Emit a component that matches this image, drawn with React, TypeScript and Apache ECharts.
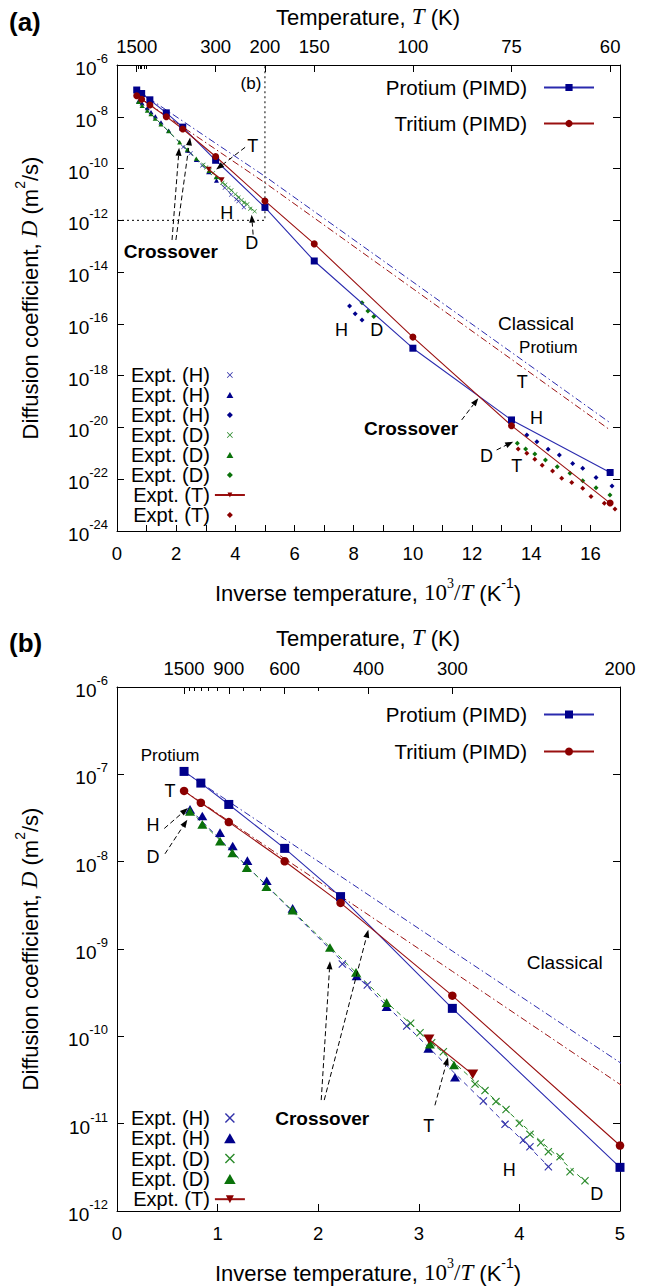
import React, { useEffect, useRef } from 'react';
import * as echarts from 'echarts';

const FONT = '"Liberation Sans", Arial, Helvetica, sans-serif';
const SERIF = '"Liberation Serif", "Times New Roman", serif';

// ---------------- data (D in m^2/s, x = 10^3/T in K^-1) ----------------
const pimdTemperatures = [1500, 1200, 900, 600, 450, 300, 200, 150, 100, 75, 60];
const protiumPIMD = [1.08e-7, 7.94e-8, 4.52e-8, 1.42e-8, 3.98e-9, 2.09e-10, 3.16e-12, 2.69e-14, 1.15e-17, 1.95e-20, 1.82e-22];
const tritiumPIMD = [6.46e-8, 4.73e-8, 2.84e-8, 1.01e-8, 3.37e-9, 2.92e-10, 5.62e-12, 1.23e-13, 3.09e-17, 1.17e-20, 1.2e-23];
const protiumClassical = [1.07e-7, 7.98e-8, 4.88e-8, 1.82e-8, 6.81e-9, 9.48e-10, 5.01e-11, 2.19e-12, 4.17e-15, 7.94e-18, 1.51e-20];
const tritiumClassical = [6.46e-8, 4.8e-8, 2.92e-8, 1.08e-8, 4.03e-9, 5.55e-10, 2.82e-11, 1.23e-12, 2.29e-15, 4.27e-18, 7.94e-21];

const exptHCrossX = [2.24, 2.488, 2.88, 3.642, 3.857, 4.039, 4.105, 4.288];
const exptHCrossD = [6.73e-10, 3.87e-10, 1.31e-10, 1.82e-11, 9.82e-12, 6.5e-12, 5.45e-12, 3.21e-12];
const exptHTriX = [0.726, 0.848, 1.024, 1.15, 1.296, 1.488, 1.746, 2.382, 2.68, 3.095, 3.36];
const exptHTriD = [3.97e-8, 3.33e-8, 2.15e-8, 1.51e-8, 1.03e-8, 6.05e-9, 2.92e-9, 4.91e-10, 2.18e-10, 7.29e-11, 3.4e-11];
const exptHDiaX = [7.86, 8.05, 8.28, 13.85, 14.19, 14.57, 14.95, 15.4, 15.74, 16.19, 16.73];
const exptHDiaD = [4.9e-16, 2.45e-16, 1.41e-16, 5.13e-21, 2.82e-21, 1.45e-21, 8.71e-22, 4.07e-22, 2.63e-22, 1.17e-22, 5.5e-23];
const exptDCrossX = [2.919, 3.012, 3.128, 3.244, 3.559, 3.658, 3.767, 3.867, 3.999, 4.105, 4.212, 4.288, 4.404, 4.503, 4.652];
const exptDCrossD = [1.41e-10, 1.1e-10, 8.45e-11, 6.67e-11, 2.84e-11, 2.39e-11, 1.79e-11, 1.45e-11, 1.01e-11, 7.55e-12, 6.05e-12, 4.78e-12, 4.19e-12, 2.82e-12, 2.22e-12];
const exptDTriX = [0.726, 0.848, 1.024, 1.147, 1.29, 1.485, 1.746, 2.117, 2.376, 2.68, 3.11, 3.35];
const exptDTriD = [3.77e-8, 2.67e-8, 1.72e-8, 1.26e-8, 8.53e-9, 5.16e-9, 2.79e-9, 1.04e-9, 5.41e-10, 2.43e-10, 8.13e-11, 4.7e-11];
const exptDDiaX = [8.28, 8.48, 8.68, 13.53, 13.81, 14.12, 14.48, 14.88, 15.31, 15.74, 16.19, 16.66];
const exptDDiaD = [6.61e-16, 3.16e-16, 1.91e-16, 2.45e-21, 1.48e-21, 9.33e-22, 5.5e-22, 3.02e-22, 1.7e-22, 8.71e-23, 4.68e-23, 2.45e-23];
const exptTTriX = [3.101, 3.536];
const exptTTriD = [9.25e-11, 3.67e-11];
const exptTDiaX = [13.56, 13.85, 14.12, 14.37, 14.72, 15.03, 15.37, 15.74, 16.02, 16.47, 16.83];
const exptTDiaD = [1.48e-21, 1.0e-21, 5.89e-22, 3.47e-22, 2.09e-22, 1.1e-22, 7.41e-23, 4.47e-23, 2.14e-23, 1.17e-23, 7.08e-24];
const exptHFitX = [0.726, 2.68, 4.3];
const exptHFitD = [3.98e-8, 2.24e-10, 3.16e-12];
const exptDFitX = [0.726, 2.68, 3.35, 4.67];
const exptDFitD = [3.8e-8, 2.45e-10, 5.01e-11, 2.09e-12];

// region of panel (b) marked in panel (a)
const regionBx = [0, 5, 5];
const regionBD = [1e-12, 1e-12, 1e-6];

// tick labels
const topTempLabelsA = [1500, 300, 200, 150, 100, 75, 60];
const topTempMinorA = [1400, 1300, 1200, 1100, 1000];
const topTempLabelsB = [1500, 900, 600, 400, 300, 200];
const topTempMinorB = [1400, 1300, 1200, 1100, 1000, 800, 700, 500];

// annotations, in data coordinates [10^3/T, log10 D]
const annotTextA: [number, number, string, number, boolean?][] = [
  [4.59, -9.13, 'T', 18], [3.71, -11.73, 'H', 18], [4.55, -12.89, 'D', 18],
  [1.82, -13.22, 'Crossover', 19, true], [7.59, -16.24, 'H', 18], [8.78, -16.24, 'D', 18],
  [14.16, -15.98, 'Classical', 19], [14.58, -16.92, 'Protium', 17], [13.7, -18.23, 'T', 18],
  [9.94, -20.06, 'Crossover', 19, true], [14.18, -19.65, 'H', 18], [12.49, -21.1, 'D', 18], [13.51, -21.49, 'T', 18],
];
const annotArrowA = [
  [4.33, -9.18, 3.35, -10.04], [4.6, -12.55, 4.55, -11.78], [1.86, -12.76, 2.1, -9.2],
  [1.99, -12.76, 2.47, -8.8], [11.65, -19.71, 12.21, -18.87], [12.83, -20.87, 13.39, -20.55],
];
const annotTextB: [number, number, string, number, boolean?][] = [
  [0.527, -6.79, 'Protium', 17], [0.527, -7.19, 'T', 18], [0.358, -7.58, 'H', 18], [0.358, -7.95, 'D', 18],
  [4.45, -9.15, 'Classical', 19], [2.04, -10.94, 'Crossover', 19, true], [3.1, -11.03, 'T', 18],
  [3.9, -11.53, 'H', 18], [4.77, -11.8, 'D', 18],
];
const annotArrowB = [
  [0.47, -7.62, 0.705, -7.385], [0.477, -7.91, 0.699, -7.52], [2.03, -10.73, 2.117, -9.14],
  [2.06, -10.73, 2.498, -8.78], [3.16, -10.79, 3.29, -10.24],
];

// ---------------- styling ----------------
const C_PH = '#00008b';
const C_PHL = '#2a2aae';
const C_T = '#8b0000';
const C_TL = '#9a1010';
const C_H = '#00008b';
const C_HX = '#3232aa';
const C_D = '#0a720a';
const C_DX = '#2a8a2a';
const CROSS = 'path://M0,1L1,0L5,4L9,0L10,1L6,5L10,9L9,10L5,6L1,10L0,9L4,5Z';
const TRI_UP = 'path://M5,0L10,8.66L0,8.66Z';
const TRI_DOWN = 'path://M0,0L10,0L5,8.66Z';
const DIAMOND = 'path://M5,0L10,5L5,10L0,5Z';

const inv = (T: number) => 1000 / T;
const pts = (xs: number[], ds: number[]) => xs.map((x, i) => [x, Math.log10(ds[i])]);
const strip = (n: string) => n.split('#')[0];

function panelSeries(p: 'a' | 'b') {
  const isA = p === 'a';
  const axes = { xAxisIndex: isA ? 0 : 3, yAxisIndex: isA ? 0 : 2 };
  const s = isA
    ? { cross: 4.5, tri: 5, dia: 5, ttri: 6, sq: 7, ci: 7 }
    : { cross: 8, tri: 10, dia: 6, ttri: 11, sq: 9, ci: 8.5 };
  const pimdX = pimdTemperatures.map(inv);
  const common = { ...axes, silent: true, animation: false, symbolKeepAspect: true };
  const it = (color: string) => ({ color, opacity: 1 });
  const out: any[] = [];
  if (isA) {
    out.push({ ...common, type: 'line', name: 'regionB', data: pts(regionBx, regionBD), symbol: 'none',
      lineStyle: { color: '#000', width: 1, type: [2, 3] }, z: 1 });
  }
  out.push({ ...common, type: 'line', name: 'fitH' + p, data: pts(exptHFitX, exptHFitD), symbol: 'none',
    lineStyle: { color: C_HX, width: 1, type: [5, 4] }, z: 2 });
  out.push({ ...common, type: 'line', name: 'fitD' + p, data: pts(exptDFitX, exptDFitD), symbol: 'none',
    lineStyle: { color: C_DX, width: 1, type: [5, 4] }, z: 2 });
  out.push({ ...common, type: 'scatter', name: `Expt. (H)#${p}1`, data: pts(exptHCrossX, exptHCrossD),
    symbol: CROSS, symbolSize: s.cross, itemStyle: it(C_HX), z: 3 });
  out.push({ ...common, type: 'scatter', name: `Expt. (H)#${p}2`, data: pts(exptHTriX, exptHTriD),
    symbol: TRI_UP, symbolSize: s.tri, itemStyle: it(C_H), z: 3 });
  if (isA) out.push({ ...common, type: 'scatter', name: `Expt. (H)#${p}3`, data: pts(exptHDiaX, exptHDiaD),
    symbol: DIAMOND, symbolSize: s.dia, itemStyle: it(C_H), z: 3 });
  out.push({ ...common, type: 'scatter', name: `Expt. (D)#${p}4`, data: pts(exptDCrossX, exptDCrossD),
    symbol: CROSS, symbolSize: s.cross, itemStyle: it(C_DX), z: 3 });
  out.push({ ...common, type: 'scatter', name: `Expt. (D)#${p}5`, data: pts(exptDTriX, exptDTriD),
    symbol: TRI_UP, symbolSize: s.tri, itemStyle: it(C_D), z: 3 });
  if (isA) out.push({ ...common, type: 'scatter', name: `Expt. (D)#${p}6`, data: pts(exptDDiaX, exptDDiaD),
    symbol: DIAMOND, symbolSize: s.dia, itemStyle: it(C_D), z: 3 });
  out.push({ ...common, type: 'line', name: `Expt. (T)#${p}7`, data: pts(exptTTriX, exptTTriD),
    symbol: TRI_DOWN, symbolSize: s.ttri, showAllSymbol: true, itemStyle: it(C_T),
    lineStyle: { color: C_TL, width: 1.2 }, z: 4 });
  if (isA) out.push({ ...common, type: 'scatter', name: `Expt. (T)#${p}8`, data: pts(exptTDiaX, exptTDiaD),
    symbol: DIAMOND, symbolSize: s.dia, itemStyle: it(C_T), z: 3 });
  out.push({ ...common, type: 'line', name: 'clH' + p, data: pts(pimdX, protiumClassical), symbol: 'none',
    lineStyle: { color: C_PHL, width: 1, type: [7, 3, 1.5, 3] }, z: 5 });
  out.push({ ...common, type: 'line', name: 'clT' + p, data: pts(pimdX, tritiumClassical), symbol: 'none',
    lineStyle: { color: C_TL, width: 1, type: [7, 3, 1.5, 3] }, z: 5 });
  out.push({ ...common, type: 'line', name: `Protium (PIMD)#${p}`, data: pts(pimdX, protiumPIMD),
    symbol: 'rect', symbolSize: s.sq, showAllSymbol: true, itemStyle: it(C_PH),
    lineStyle: { color: C_PHL, width: 1.1 }, z: 6 });
  out.push({ ...common, type: 'line', name: `Tritium (PIMD)#${p}`, data: pts(pimdX, tritiumPIMD),
    symbol: 'circle', symbolSize: s.ci, showAllSymbol: true, itemStyle: it(C_T),
    lineStyle: { color: C_TL, width: 1.1 }, z: 6 });
  return out;
}

const axLine = { show: true, onZero: false, lineStyle: { color: '#000', width: 1 } };
const tick = (len: number) => ({ show: true, inside: true, length: len, lineStyle: { color: '#000', width: 1 } });
const lbl = { color: '#000', fontFamily: FONT, fontSize: 18.5 };
const expRich = {
  b: { fontFamily: FONT, fontSize: 19, color: '#000', lineHeight: 26, verticalAlign: 'bottom' },
  s: { fontFamily: FONT, fontSize: 13, color: '#000', lineHeight: 11, verticalAlign: 'top' },
};
const expFmt = (v: number) => `{b|10}{s|${Math.round(v)}}`;

function topAxes(grid: number, max: number, labels: number[], minor: number[]) {
  return [
    {
      gridIndex: grid, type: 'value', position: 'top', min: 0, max,
      axisLine: axLine, splitLine: { show: false },
      axisTick: { ...tick(7), customValues: labels.map(inv) },
      axisLabel: { ...lbl, margin: 9, customValues: labels.map(inv), formatter: (v: number) => String(Math.round(1000 / v)) },
    },
    {
      gridIndex: grid, type: 'value', position: 'top', min: 0, max,
      axisLine: { show: false }, splitLine: { show: false },
      axisTick: { ...tick(4), customValues: minor.map(inv) },
      axisLabel: { show: false },
    },
  ];
}

function buildOption() {
  const yLeft = (grid: number, min: number, interval: number) => ({
    gridIndex: grid, type: 'value', position: 'left', min, max: -6, interval,
    axisLine: axLine, axisTick: tick(7), splitLine: { show: false },
    axisLabel: { margin: 9, formatter: expFmt, rich: expRich },
  });
  const yRight = (grid: number, min: number, interval: number) => ({
    gridIndex: grid, type: 'value', position: 'right', min, max: -6, interval,
    axisLine: axLine, axisTick: tick(7), splitLine: { show: false }, axisLabel: { show: false },
  });
  const legendText = (size: number, pad: number) => ({
    fontFamily: FONT, fontSize: size, color: '#000', lineHeight: 20, padding: [0, pad, 0, 0],
  });
  const lg = { orient: 'vertical', align: 'right', padding: 0, selectedMode: false, symbolKeepAspect: true, formatter: strip };
  return {
    animation: false,
    backgroundColor: '#fff',
    grid: [
      { left: 117, top: 65, width: 503, height: 466, containLabel: false, outerBoundsMode: 'none' },
      { left: 117, top: 687, width: 503, height: 524, containLabel: false, outerBoundsMode: 'none' },
    ],
    xAxis: [
      {
        gridIndex: 0, type: 'value', position: 'bottom', min: 0, max: 17, interval: 1,
        axisLine: axLine, axisTick: tick(6), splitLine: { show: false },
        axisLabel: { ...lbl, margin: 13, formatter: (v: number) => (v % 2 === 0 ? String(v) : '') },
      },
      ...topAxes(0, 17, topTempLabelsA, topTempMinorA),
      {
        gridIndex: 1, type: 'value', position: 'bottom', min: 0, max: 5, interval: 1,
        axisLine: axLine, axisTick: tick(7), splitLine: { show: false },
        axisLabel: { ...lbl, margin: 13 },
      },
      ...topAxes(1, 5, topTempLabelsB, topTempMinorB),
    ],
    yAxis: [yLeft(0, -24, 2), yRight(0, -24, 2), yLeft(1, -12, 1), yRight(1, -12, 1)],
    legend: [
      {
        ...lg, right: 59, top: 77, itemWidth: 50, itemHeight: 9, itemGap: 15, textStyle: legendText(20.5, 12),
        data: ['Protium (PIMD)#a', 'Tritium (PIMD)#a'],
      },
      {
        ...lg, left: 131, top: 365, itemWidth: 30, itemHeight: 6, itemGap: 0, textStyle: legendText(20, 0),
        data: ['Expt. (H)#a1', 'Expt. (H)#a2', 'Expt. (H)#a3', 'Expt. (D)#a4', 'Expt. (D)#a5', 'Expt. (D)#a6', 'Expt. (T)#a7', 'Expt. (T)#a8'],
      },
      {
        ...lg, right: 59, top: 704, itemWidth: 50, itemHeight: 10, itemGap: 16, textStyle: legendText(20.5, 12),
        data: ['Protium (PIMD)#b', 'Tritium (PIMD)#b'],
      },
      {
        ...lg, left: 131, top: 1108, itemWidth: 30, itemHeight: 10, itemGap: 0.3, textStyle: legendText(20, 0),
        data: ['Expt. (H)#b1', 'Expt. (H)#b2', 'Expt. (D)#b4', 'Expt. (D)#b5', 'Expt. (T)#b7'],
      },
    ],
    series: [...panelSeries('a'), ...panelSeries('b')],
  };
}

function buildGraphic(chart: any) {
  const A = (x: number, y: number) => chart.convertToPixel({ xAxisIndex: 0, yAxisIndex: 0 }, [x, y]);
  const B = (x: number, y: number) => chart.convertToPixel({ xAxisIndex: 3, yAxisIndex: 2 }, [x, y]);
  const els: any[] = [];
  const text = (x: number, y: number, t: string, size: number, bold = false, align = 'center') => ({
    type: 'text', x, y, silent: true, z: 100,
    style: { text: t, fontFamily: FONT, fontSize: size, fontWeight: bold ? 'bold' : 'normal', fill: '#000', align, verticalAlign: 'middle' },
  });
  const arrow = (p0: number[], p1: number[]) => {
    const dx = p1[0] - p0[0];
    const dy = p1[1] - p0[1];
    const len = Math.hypot(dx, dy) || 1;
    const ux = dx / len;
    const uy = dy / len;
    const head = 8;
    const w = 3;
    const bx = p1[0] - ux * head;
    const by = p1[1] - uy * head;
    els.push({ type: 'line', silent: true, z: 100, shape: { x1: p0[0], y1: p0[1], x2: bx, y2: by },
      style: { stroke: '#000', lineWidth: 1, lineDash: [5, 3] } });
    els.push({ type: 'polygon', silent: true, z: 100,
      shape: { points: [[p1[0], p1[1]], [bx - uy * w, by + ux * w], [bx + uy * w, by - ux * w]] },
      style: { fill: '#000' } });
  };
  annotTextA.forEach(([x, y, t, sz, b]) => { const p = A(x, y); if (p) els.push(text(p[0], p[1], t, sz, !!b)); });
  annotTextB.forEach(([x, y, t, sz, b]) => { const p = B(x, y); if (p) els.push(text(p[0], p[1], t, sz, !!b)); });
  annotArrowA.forEach(([x0, y0, x1, y1]) => { const a = A(x0, y0); const b = A(x1, y1); if (a && b) arrow(a, b); });
  annotArrowB.forEach(([x0, y0, x1, y1]) => { const a = B(x0, y0); const b = B(x1, y1); if (a && b) arrow(a, b); });
  const pb = A(regionBx[2] - 0.12, -6.7);
  if (pb) els.push(text(pb[0], pb[1], '(b)', 17, false, 'right'));

  // panel labels and axis titles
  els.push(text(9, 22, '(a)', 26, true, 'left'));
  els.push(text(9, 643, '(b)', 26, true, 'left'));
  const richBase = {
    n: { fontFamily: FONT, fontSize: 22, fill: '#000', lineHeight: 28, verticalAlign: 'bottom' },
    i: { fontFamily: SERIF, fontStyle: 'italic', fontSize: 23, fill: '#000', lineHeight: 28, verticalAlign: 'bottom' },
    m: { fontFamily: SERIF, fontSize: 23, fill: '#000', lineHeight: 28, verticalAlign: 'bottom' },
    ms: { fontFamily: SERIF, fontSize: 14, fill: '#000', lineHeight: 13, verticalAlign: 'top' },
    s: { fontFamily: FONT, fontSize: 14, fill: '#000', lineHeight: 13, verticalAlign: 'top' },
  };
  const rich = (x: number, y: number, t: string, rot = 0) => ({
    type: 'text', x, y, rotation: rot, silent: true, z: 100,
    style: { text: t, rich: richBase, align: 'center', verticalAlign: 'middle' },
  });
  const tTitle = '{n|Temperature, }{i|T}{n| (K)}';
  const xTitle = '{n|Inverse temperature, }{m|10}{ms|3}{m|/}{i|T}{n| (K}{s|-1}{n|)}';
  const yTitle = '{n|Diffusion coefficient, }{i|D}{n| (m}{s|2}{n|/s)}';
  els.push(rich(368, 14, tTitle));
  els.push(rich(368, 635, tTitle));
  els.push(rich(368, 590, xTitle));
  els.push(rich(368, 1270, xTitle));
  els.push(rich(27, 298, yTitle, Math.PI / 2));
  els.push(rich(27, 949, yTitle, Math.PI / 2));
  return els;
}

export default function App() {
  const ref = useRef<HTMLDivElement>(null);
  useEffect(() => {
    if (!ref.current) return;
    const chart = echarts.init(ref.current, undefined, { renderer: 'svg', width: 654, height: 1286 });
    chart.setOption(buildOption() as any);
    chart.setOption({ graphic: buildGraphic(chart) } as any);
    return () => chart.dispose();
  }, []);
  return (
    <div
      ref={ref}
      style={{ position: 'absolute', left: 0, top: 0, width: 654, height: 1286, background: '#fff' }}
    />
  );
}
